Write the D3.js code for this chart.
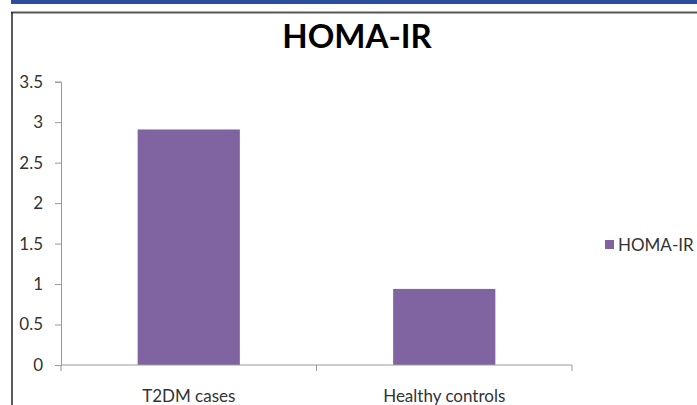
<!DOCTYPE html>
<html>
  <head>
    <meta charset="UTF-8">
    <title>HOMA-IR</title>
    <script src="https://d3js.org/d3.v7.min.js"></script>
    <style>
      body { margin: 0; background: #fff; }
      svg { display: block; font-family: Lato, "Open Sans", sans-serif; }
    </style>
  </head>
  <body>
    <svg id="chart" width="697" height="405"></svg>
    <script>
      const categories = ['T2DM cases', 'Healthy controls'];
      const values = [2.91, 0.94];
      const seriesName = 'HOMA-IR';
      const yTicks = [0, 0.5, 1, 1.5, 2, 2.5, 3, 3.5];

      const svg = d3.select('#chart');
      const width = 697, height = 405;

      // frame: blue band and border lines
      svg.append('rect').attr('x', 11).attr('y', 0).attr('width', width - 11).attr('height', 4).attr('fill', '#2a4e9b');
      svg.append('line').attr('x1', 11).attr('x2', width).attr('y1', 12.5).attr('y2', 12.5).attr('stroke', '#555').attr('stroke-width', 2);
      svg.append('line').attr('x1', 12).attr('x2', 12).attr('y1', 12).attr('y2', height).attr('stroke', '#222').attr('stroke-width', 1.5);

      const x = d3.scaleBand()
        .domain(categories)
        .range([61, 572])
        .paddingInner(0.6)
        .paddingOuter(0.3);

      const y = d3.scaleLinear()
        .domain([0, 3.5])
        .range([365, 81.7]);

      svg.append('text')
        .attr('x', 357)
        .attr('y', 48)
        .attr('text-anchor', 'middle')
        .attr('font-size', 33)
        .attr('font-weight', 'bold')
        .attr('fill', '#000')
        .text('HOMA-IR');

      svg.selectAll('.bar')
        .data(values)
        .join('rect')
        .attr('class', 'bar')
        .attr('x', (d, i) => x(categories[i]))
        .attr('width', x.bandwidth())
        .attr('y', d => y(d))
        .attr('height', d => y(0) - y(d))
        .attr('fill', '#8064a2');

      const yAxis = svg.append('g')
        .attr('transform', 'translate(61,0)')
        .call(d3.axisLeft(y).tickValues(yTicks).tickSize(6).tickPadding(12).tickFormat(d3.format('')));
      yAxis.select('.domain').attr('stroke', '#999');
      yAxis.selectAll('.tick line').attr('stroke', '#999');
      yAxis.selectAll('.tick text').attr('font-size', 17).attr('fill', '#333').attr('font-family', 'Lato, sans-serif');

      // x axis with ticks at band boundaries
      const xAxis = svg.append('g').attr('transform', 'translate(0,365)');
      xAxis.append('line').attr('x1', 61).attr('x2', 572).attr('stroke', '#999');
      const bounds = [61, 61 + (572 - 61) / 2, 572];
      xAxis.selectAll('.xt').data(bounds).join('line')
        .attr('x1', d => d).attr('x2', d => d).attr('y1', 0).attr('y2', 6)
        .attr('stroke', '#999');
      xAxis.selectAll('.xl').data(categories).join('text')
        .attr('x', d => x(d) + x.bandwidth() / 2)
        .attr('y', 37)
        .attr('text-anchor', 'middle')
        .attr('font-size', 17)
        .attr('fill', '#333')
        .text(d => d);

      // legend
      const legend = svg.append('g').attr('transform', 'translate(605,240)');
      legend.append('rect').attr('width', 9).attr('height', 9).attr('fill', '#8064a2');
      legend.append('text').attr('x', 13).attr('y', 10.5).attr('font-size', 17).attr('fill', '#333').text(seriesName);
    </script>
  </body>
</html>
